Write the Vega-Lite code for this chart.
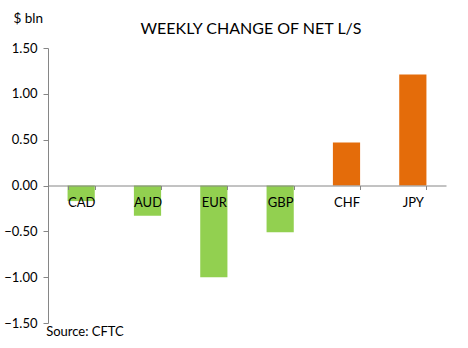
{
  "$schema": "https://vega.github.io/schema/vega-lite/v6.json",
  "width": 398,
  "height": 275,
  "autosize": "none",
  "padding": {"left": 48, "top": 48, "right": 22, "bottom": 25},
  "background": "white",
  "config": {
    "font": "Lato",
    "view": {"stroke": null},
    "axis": {"labelFont": "Lato", "titleFont": "Lato", "labelColor": "black", "titleColor": "black"}
  },
  "title": {
    "text": "WEEKLY CHANGE OF NET L/S",
    "font": "Lato",
    "fontSize": 16,
    "fontWeight": "normal",
    "color": "black",
    "frame": "group",
    "anchor": "middle",
    "baseline": "alphabetic",
    "offset": 0,
    "dy": 39,
    "dx": 4
  },
  "data": {
    "values": [
      {"currency": "CAD", "value": -0.17},
      {"currency": "AUD", "value": -0.33},
      {"currency": "EUR", "value": -1.00},
      {"currency": "GBP", "value": -0.51},
      {"currency": "CHF", "value": 0.47},
      {"currency": "JPY", "value": 1.21}
    ]
  },
  "layer": [
    {
      "mark": {"type": "bar"},
      "encoding": {
        "x": {
          "field": "currency",
          "type": "nominal",
          "sort": null,
          "scale": {"paddingInner": 0.59, "paddingOuter": 0.295},
          "axis": {
            "orient": "bottom",
            "offset": -137.5,
            "title": null,
            "labelAngle": 0,
            "labelFontSize": 13,
            "labelPadding": 7,
            "tickBand": "extent",
            "tickSize": 4,
            "tickColor": "#868686",
            "domainColor": "#868686",
            "zindex": 1
          }
        },
        "y": {
          "field": "value",
          "type": "quantitative",
          "scale": {"domain": [-1.5, 1.5], "nice": false},
          "axis": {
            "values": [-1.5, -1, -0.5, 0, 0.5, 1, 1.5],
            "format": ".2f",
            "grid": false,
            "labelFontSize": 13,
            "labelPadding": 6,
            "tickSize": 5,
            "tickColor": "#868686",
            "domainColor": "#868686",
            "title": "$ bln",
            "titleAngle": 0,
            "titleFontSize": 13.5,
            "titleFontWeight": "normal",
            "titleAlign": "left",
            "titleBaseline": "middle",
            "titleX": -35,
            "titleY": -30
          }
        },
        "color": {
          "condition": {"test": "datum.value > 0", "value": "#E46C0A"},
          "value": "#92D050"
        }
      }
    },
    {
      "data": {"values": [{"note": "Source: CFTC"}]},
      "mark": {"type": "text", "align": "left", "baseline": "middle", "fontSize": 13, "font": "Lato", "color": "black", "dx": -35, "dy": 9},
      "encoding": {
        "x": {"datum": "CAD"},
        "y": {"datum": -1.5},
        "text": {"field": "note"}
      }
    }
  ]
}
